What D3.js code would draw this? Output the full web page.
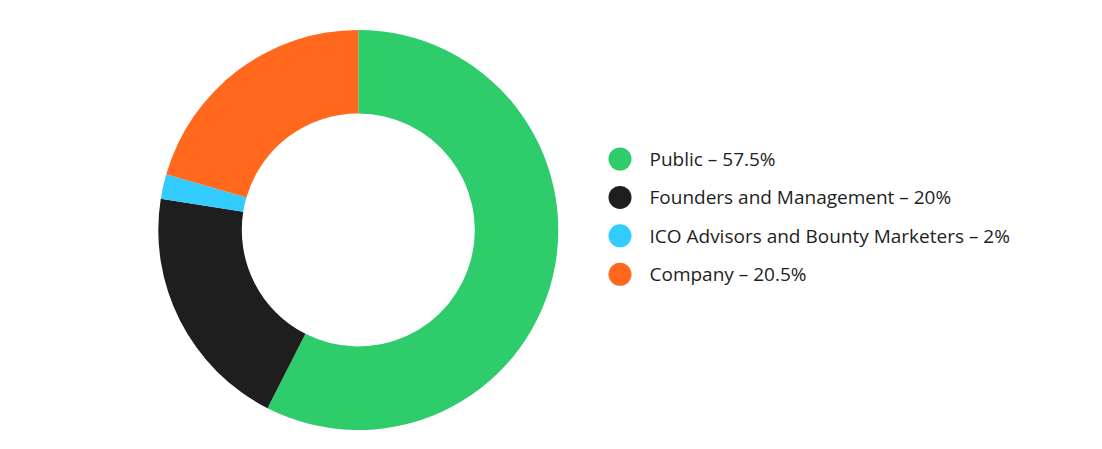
<!DOCTYPE html>
<meta charset="utf-8">
<style>
body { margin: 0; background: #fff; }
.legend text { font-family: "Open Sans", "Noto Sans", sans-serif; font-size: 19px; fill: #1e1e1e; }
</style>
<svg id="chart" width="1102" height="449"></svg>
<script src="https://cdn.jsdelivr.net/npm/d3@7"></script>
<script>
var labels = ["Public", "Founders and Management", "ICO Advisors and Bounty Marketers", "Company"];
var shares = [57.5, 20, 2, 20.5];
var shareText = ["57.5%", "20%", "2%", "20.5%"];
var colors = ["#2ecc6b", "#1e1e1e", "#33ccff", "#ff681d"];

var svg = d3.select("#chart");
var cx = 358.3, cy = 230,
    outer = 200, inner = 116.5;

var pie = d3.pie().sort(null).value(function(d) { return d; });
var arc = d3.arc().innerRadius(inner).outerRadius(outer);

var g = svg.append("g").attr("transform", "translate(" + cx + "," + cy + ")");
g.selectAll("path")
    .data(pie(shares))
  .enter().append("path")
    .attr("d", arc)
    .attr("fill", function(d, i) { return colors[i]; });

// legend
var y = d3.scalePoint().domain(labels).range([159, 274.3]);
var lg = svg.append("g").attr("class", "legend");
var row = lg.selectAll("g")
    .data(labels)
  .enter().append("g")
    .attr("transform", function(d) { return "translate(620," + y(d) + ")"; });
row.append("circle")
    .attr("r", 11.5)
    .attr("fill", function(d, i) { return colors[i]; });
row.append("text")
    .attr("x", 29.5)
    .attr("y", 6.8)
    .text(function(d, i) { return d + " \u2013 " + shareText[i]; });
</script>
